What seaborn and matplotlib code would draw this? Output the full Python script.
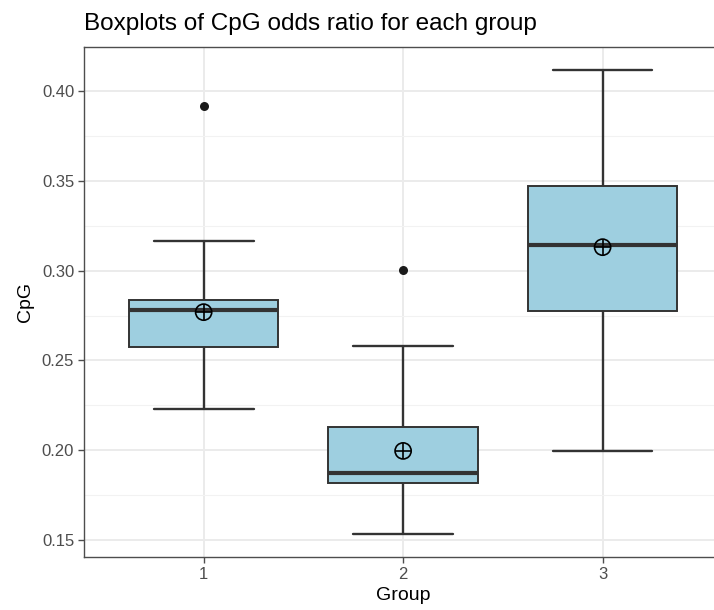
import numpy as np
import pandas as pd
import matplotlib
matplotlib.use("Agg")
import matplotlib.pyplot as plt
import seaborn as sns
from matplotlib.ticker import MultipleLocator, FormatStrFormatter

# ---- data ----
groups = ["1", "2", "3"]
lower_whisker = [0.2229, 0.1533, 0.1996]
q1 = [0.2575, 0.1817, 0.2775]
median = [0.2781, 0.1873, 0.3143]
q3 = [0.2836, 0.2129, 0.3471]
upper_whisker = [0.3165, 0.2580, 0.4117]
outlier_groups = ["1", "2"]
outlier_values = [0.3916, 0.3003]
means = [0.2769, 0.1996, 0.3131]

title = "Boxplots of CpG odds ratio for each group"
xlabel = "Group"
ylabel = "CpG"

# ---- build long table of five-number summaries ----
rows = []
for g, a, b, c, d, e in zip(groups, lower_whisker, q1, median, q3, upper_whisker):
    for v in (a, b, c, d, e):
        rows.append({"Group": g, "CpG": v})
df = pd.DataFrame(rows)
out_df = pd.DataFrame({"Group": outlier_groups, "CpG": outlier_values})
pos = {g: i for i, g in enumerate(groups)}
mean_df = pd.DataFrame({"x": [pos[g] for g in groups], "CpG": means})

sns.set_theme(style="white")
plt.rcParams["font.family"] = ["Liberation Sans", "DejaVu Sans"]

fig = plt.figure(figsize=(7.14, 6.10), dpi=100)
ax = fig.add_axes([0.1176, 0.0869, 0.894, 0.836])

box_w = 0.75
cap_w = 0.5
edge = "#333333"
sns.boxplot(data=df, x="Group", y="CpG", order=groups, whis=(0, 100),
            width=box_w, color="#9ECFE0", linecolor=edge, linewidth=1.4,
            saturation=1, showcaps=True, fliersize=0,
            medianprops=dict(linewidth=3.0, color=edge),
            whiskerprops=dict(linewidth=1.7, color=edge),
            capprops=dict(linewidth=1.7, color=edge),
            ax=ax, zorder=3)

# widen the caps to errorbar width
for ln in ax.lines:
    xd = np.asarray(ln.get_xdata(), dtype=float)
    yd = np.asarray(ln.get_ydata(), dtype=float)
    if len(xd) == 2 and yd[0] == yd[1]:
        w = abs(xd[1] - xd[0])
        if w < box_w * 0.99:
            c = xd.mean()
            ln.set_xdata([c - cap_w / 2, c + cap_w / 2])

sns.stripplot(data=out_df, x="Group", y="CpG", order=groups, jitter=False,
              color="#1a1a1a", size=6.5, linewidth=0, ax=ax, zorder=4)

sns.scatterplot(data=mean_df, x="x", y="CpG", marker="o", s=135,
                color="none", edgecolor="black", linewidth=1.2, ax=ax, zorder=5)
sns.scatterplot(data=mean_df, x="x", y="CpG", marker="+", s=135,
                color="black", linewidth=1.2, ax=ax, zorder=6)

ax.set_xlim(-0.6, 2.6)
ax.set_ylim(0.1405, 0.4246)
ax.set_xticks(range(len(groups)))
ax.set_xticklabels(groups)
ax.yaxis.set_major_locator(MultipleLocator(0.05))
ax.yaxis.set_minor_locator(MultipleLocator(0.025))
ax.yaxis.set_major_formatter(FormatStrFormatter("%.2f"))

ax.set_axisbelow(True)
ax.grid(True, which="major", color="#EBEBEB", linewidth=1.4)
ax.grid(True, which="minor", axis="y", color="#F2F2F2", linewidth=0.8)

for s in ax.spines.values():
    s.set_color("#4d4d4d")
    s.set_linewidth(1.0)
    s.set_visible(True)

ax.tick_params(axis="both", which="major", length=4, width=1.0, color="#4d4d4d",
               labelsize=12, labelcolor="#4d4d4d", pad=3,
               left=True, bottom=True)
ax.tick_params(axis="both", which="minor", length=0)

ax.set_xlabel(xlabel, fontsize=14, color="black", labelpad=4)
ax.set_ylabel(ylabel, fontsize=14, color="black", labelpad=6)
ax.set_title(title, loc="left", fontsize=17.5, color="black", pad=12)
if ax.get_legend():
    ax.get_legend().remove()

fig.savefig("out.png", dpi=100)
